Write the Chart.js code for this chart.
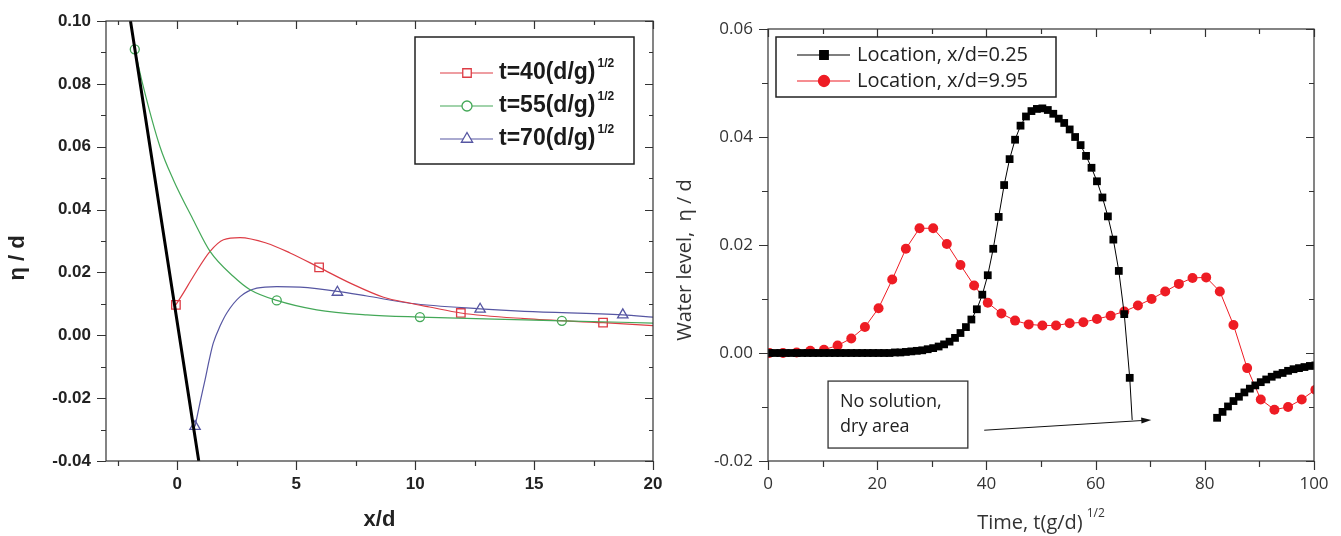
<!DOCTYPE html>
<html lang="en">
<head>
  <meta charset="UTF-8">
  <title>Free-surface profiles and water level time series</title>
  <style>
    html, body { margin: 0; padding: 0; background: #fff; }
    .charts { position: relative; width: 1341px; height: 536px; }
    .chart-box { position: absolute; top: 0; height: 536px; }
    .profile-box { left: 0; width: 670px; }
    .series-box { left: 670px; width: 671px; }
  </style>
</head>
<body>
  <div class="charts">
    <div class="chart-box profile-box"><canvas id="profile-chart"></canvas></div>
    <div class="chart-box series-box"><canvas id="series-chart"></canvas></div>
  </div>

  <script src="https://cdn.jsdelivr.net/npm/chart.js@4.4.1/dist/chart.umd.min.js"></script>
  <script>
    // ---- left panel: profiles eta/d against x/d ----
    const PROFILE_X_RANGE = [-3, 20];
    const PROFILE_Y_RANGE = [-0.04, 0.10];

    const SHORE_X = [-1.97, 0.90];
    const SHORE_Y = [0.10, -0.04];

    const T40_X = [-0.06, 0.25, 0.67, 1.375, 1.94, 2.64, 3.76, 4.74, 5.96, 7.27, 8.67, 9.79, 10.6, 11.92, 14.6, 17.9, 20];
    const T40_Y = [0.0097, 0.0134, 0.0187, 0.0267, 0.0304, 0.0311, 0.0293, 0.0262, 0.0216, 0.0166, 0.0121, 0.0102, 0.0090, 0.0071, 0.0053, 0.0040, 0.0031];
    const T40_MARK_X = [-0.06, 5.96, 11.92, 17.9];
    const T40_MARK_Y = [0.0097, 0.0216, 0.0071, 0.0040];

    const T55_X = [-1.79, -1.46, -0.73, -0.17, 0.67, 1.375, 2.36, 3.06, 4.18, 5.86, 7.97, 10.2, 14.6, 16.17, 20];
    const T55_Y = [0.091, 0.080, 0.060, 0.0495, 0.0367, 0.0267, 0.0187, 0.0145, 0.0111, 0.0081, 0.0065, 0.0058, 0.0049, 0.0046, 0.0039];
    const T55_MARK_X = [-1.79, 4.18, 10.2, 16.17];
    const T55_MARK_Y = [0.091, 0.0111, 0.0058, 0.0046];

    const T70_X = [0.744, 0.95, 1.165, 1.35, 1.51, 1.8, 2.08, 2.64, 3.34, 4.18, 5.16, 6.73, 7.97, 9.79, 12.73, 14.6, 18.73, 20];
    const T70_Y = [-0.029, -0.0215, -0.0142, -0.0075, -0.0025, 0.0030, 0.0071, 0.0123, 0.0150, 0.0155, 0.0153, 0.0140, 0.0125, 0.0102, 0.0084, 0.0076, 0.0065, 0.0058];
    const T70_MARK_X = [0.744, 6.73, 12.73, 18.73];
    const T70_MARK_Y = [-0.029, 0.0137, 0.0083, 0.0065];

    const PROFILE_LABELS = ['t=40(d/g)', 't=55(d/g)', 't=70(d/g)'];

    // ---- right panel: water level at two gauges against time ----
    const SERIES_X_RANGE = [0, 100];
    const SERIES_Y_RANGE = [-0.02, 0.06];

    const GAUGE_A_X = [0.25, 1.25, 2.25, 3.25, 4.25, 5.25, 6.25, 7.25, 8.25, 9.25, 10.25, 11.25, 12.25, 13.25, 14.25, 15.25, 16.25, 17.25, 18.25, 19.25,
      20.25, 21.25, 22.25, 23.25, 24.25, 25.25, 26.25, 27.25, 28.25, 29.25, 30.25, 31.25, 32.25, 33.25, 34.25, 35.25, 36.25, 37.25, 38.25, 39.25,
      40.25, 41.25, 42.25, 43.25, 44.25, 45.25, 46.25, 47.25, 48.25, 49.25, 50.25, 51.25, 52.25, 53.25, 54.25, 55.25, 56.25, 57.25, 58.25, 59.25,
      60.25, 61.25, 62.25, 63.25, 64.25, 65.25, 66.25, 74,
      82.25, 83.25, 84.25, 85.25, 86.25, 87.25, 88.25, 89.25, 90.25, 91.25, 92.25, 93.25, 94.25, 95.25, 96.25, 97.25, 98.25, 99.25, 100.25];
    const GAUGE_A_Y = [0, 0, 0, 0, 0, 0, 0, 0, 0, 0, 0, 0, 0, 0, 0, 0, 0, 0, 0, 0,
      0, 0, 0, 0.0001, 0.0001, 0.0002, 0.0003, 0.0004, 0.0005, 0.0007, 0.0009, 0.0012, 0.0016, 0.0021, 0.0028, 0.0037, 0.0048, 0.0062, 0.0081, 0.0108,
      0.0144, 0.0193, 0.0252, 0.0311, 0.0359, 0.0395, 0.0421, 0.0438, 0.0448, 0.0452, 0.0453, 0.0450, 0.0443, 0.0434, 0.0426, 0.0414, 0.0400, 0.0385, 0.0365, 0.0343,
      0.0318, 0.0288, 0.0253, 0.0210, 0.0152, 0.0072, -0.0046, null,
      -0.0120, -0.0109, -0.0099, -0.0089, -0.0081, -0.0073, -0.0066, -0.0060, -0.0054, -0.0049, -0.0044, -0.0040, -0.0037, -0.0033, -0.0030, -0.0028, -0.0026, -0.0024, -0.0023];
    // line runs on below the last marker into the dry area
    const GAUGE_A_TAIL_X = [66.25, 66.7];
    const GAUGE_A_TAIL_Y = [-0.0046, -0.0124];

    const GAUGE_B_X = [0.25, 2.75, 5.25, 7.75, 10.25, 12.75, 15.25, 17.75, 20.25, 22.75, 25.25, 27.75, 30.25, 32.75, 35.25, 37.75, 40.25, 42.75, 45.25, 47.75,
      50.25, 52.75, 55.25, 57.75, 60.25, 62.75, 65.25, 67.75, 70.25, 72.75, 75.25, 77.75, 80.25, 82.75, 85.25, 87.75, 90.25, 92.75, 95.25, 97.75, 100.25];
    const GAUGE_B_Y = [0, 0, 0.0001, 0.0004, 0.0006, 0.0014, 0.0027, 0.0048, 0.0083, 0.0136, 0.0193, 0.0231, 0.0231, 0.0202, 0.0163, 0.0125, 0.0093, 0.0073, 0.0060, 0.0053,
      0.0051, 0.0051, 0.0055, 0.0057, 0.0063, 0.0069, 0.0077, 0.0088, 0.0100, 0.0114, 0.0128, 0.0139, 0.0140, 0.0114, 0.0052, -0.0028, -0.0086, -0.0105, -0.0100, -0.0086, -0.0068];

    const SERIES_LABELS = ['Location, x/d=0.25', 'Location, x/d=9.95'];
    const NOTE_LINES = ['No solution,', 'dry area'];

    const RED = '#dd3c45';
    const GREEN = '#44a858';
    const BLUE = '#5656a2';
    const BRIGHT_RED = '#ee1c24';
    const ARIAL = "'Liberation Sans', Arial, sans-serif";
    const SANS = "'Open Sans', 'Noto Sans', sans-serif";

    function toPoints(xs, ys) {
      return xs.map((x, i) => ({ x, y: ys[i] }));
    }

    // text with an optional superscript, anchored left or centred
    function drawRich(ctx, text, sup, x, y, o) {
      ctx.textBaseline = 'middle';
      ctx.textAlign = 'left';
      ctx.font = o.font;
      const w = ctx.measureText(text).width;
      let sw = 0;
      if (sup) {
        ctx.font = o.supFont;
        sw = o.gap + ctx.measureText(sup).width;
      }
      const x0 = o.center ? x - (w + sw) / 2 : x;
      ctx.font = o.font;
      ctx.fillText(text, x0, y);
      if (sup) {
        ctx.font = o.supFont;
        ctx.fillText(sup, x0 + w + o.gap, y - o.rise);
      }
    }

    function drawMarker(ctx, style, radius, fill, stroke, x, y) {
      ctx.fillStyle = fill;
      ctx.strokeStyle = stroke;
      ctx.lineWidth = 1.3;
      Chart.helpers.drawPoint(ctx, { pointStyle: style, radius, rotation: 0, borderWidth: 1.3 }, x, y);
    }

    // box frame, outward ticks on bottom/left, inward on top/right, with minors
    const frameTicks = {
      id: 'frameTicks',
      afterDatasetsDraw(chart, args, o) {
        const { ctx, chartArea: a, scales: { x, y } } = chart;
        const isMajor = (v, m) => Math.abs(v / m - Math.round(v / m)) < 1e-6;
        ctx.save();
        ctx.strokeStyle = o.color;
        ctx.lineWidth = o.width;
        ctx.strokeRect(a.left, a.top, a.right - a.left, a.bottom - a.top);
        ctx.beginPath();
        for (let n = Math.ceil(x.min / o.xMinor - 1e-9); n <= Math.floor(x.max / o.xMinor + 1e-9); n++) {
          const v = n * o.xMinor;
          const p = Math.round(x.getPixelForValue(v)) + 0.5;
          const major = isMajor(v, o.xMajor);
          ctx.moveTo(p, a.bottom);
          ctx.lineTo(p, a.bottom + (major ? o.outMajor : o.outMinor));
          ctx.moveTo(p, a.top);
          ctx.lineTo(p, a.top + (major ? o.inMajor : o.inMinor));
        }
        for (let n = Math.ceil(y.min / o.yMinor - 1e-9); n <= Math.floor(y.max / o.yMinor + 1e-9); n++) {
          const v = n * o.yMinor;
          const p = Math.round(y.getPixelForValue(v)) + 0.5;
          const major = isMajor(v, o.yMajor);
          ctx.moveTo(a.left, p);
          ctx.lineTo(a.left - (major ? o.outMajor : o.outMinor), p);
          ctx.moveTo(a.right, p);
          ctx.lineTo(a.right - (major ? o.inMajor : o.inMinor), p);
        }
        ctx.stroke();
        ctx.restore();
      }
    };

    const axisTitles = {
      id: 'axisTitles',
      afterDraw(chart, args, o) {
        const { ctx, chartArea: a } = chart;
        ctx.save();
        ctx.fillStyle = o.color;
        drawRich(ctx, o.xText, o.xSup, (a.left + a.right) / 2, o.xY,
          { font: o.font, supFont: o.supFont, gap: o.gap, rise: o.rise, center: true });
        ctx.translate(o.yX, (a.top + a.bottom) / 2 + o.yShift);
        ctx.rotate(-Math.PI / 2);
        ctx.font = o.font;
        ctx.textAlign = 'center';
        ctx.textBaseline = 'middle';
        ctx.fillText(o.yText, 0, 0);
        ctx.restore();
      }
    };

    const boxLegend = {
      id: 'boxLegend',
      afterDraw(chart, args, o) {
        const { ctx, chartArea: a } = chart;
        const left = o.fromRight ? a.right - o.dx - o.w : a.left + o.dx;
        const top = a.top + o.dy;
        ctx.save();
        ctx.strokeStyle = '#222';
        ctx.lineWidth = 1.5;
        ctx.strokeRect(left, top, o.w, o.h);
        o.items.forEach((it, i) => {
          const cy = top + o.firstRow + i * o.rowGap;
          ctx.strokeStyle = it.color;
          ctx.lineWidth = 1.2;
          ctx.beginPath();
          ctx.moveTo(left + o.lineFrom, cy);
          ctx.lineTo(left + o.lineTo, cy);
          ctx.stroke();
          drawMarker(ctx, it.style, it.radius, it.fill, it.color, left + o.markAt, cy);
          ctx.fillStyle = o.textColor;
          drawRich(ctx, it.text, it.sup, left + o.textAt, cy,
            { font: o.font, supFont: o.supFont, gap: o.gap, rise: o.rise, center: false });
        });
        ctx.restore();
      }
    };

    const dryNote = {
      id: 'dryNote',
      afterDraw(chart, args, o) {
        if (!o.box) return;
        const { ctx, scales: { x, y } } = chart;
        const l = x.getPixelForValue(o.box[0]);
        const t = y.getPixelForValue(o.box[1]);
        const r = x.getPixelForValue(o.box[2]);
        const b = y.getPixelForValue(o.box[3]);
        ctx.save();
        ctx.strokeStyle = '#333';
        ctx.lineWidth = 1.3;
        ctx.strokeRect(l, t, r - l, b - t);
        ctx.fillStyle = '#222';
        ctx.font = o.font;
        ctx.textAlign = 'left';
        ctx.textBaseline = 'middle';
        o.lines.forEach((s, i) => ctx.fillText(s, l + 12, t + 21 + i * 25));
        const x1 = x.getPixelForValue(o.arrow[0]);
        const y1 = y.getPixelForValue(o.arrow[1]);
        const x2 = x.getPixelForValue(o.arrow[2]);
        const y2 = y.getPixelForValue(o.arrow[3]);
        const ang = Math.atan2(y2 - y1, x2 - x1);
        ctx.strokeStyle = '#111';
        ctx.lineWidth = 1;
        ctx.beginPath();
        ctx.moveTo(x1, y1);
        ctx.lineTo(x2 - 6 * Math.cos(ang), y2 - 6 * Math.sin(ang));
        ctx.stroke();
        ctx.fillStyle = '#111';
        ctx.beginPath();
        ctx.moveTo(x2, y2);
        ctx.lineTo(x2 - 10 * Math.cos(ang) + 3 * Math.sin(ang), y2 - 10 * Math.sin(ang) - 3 * Math.cos(ang));
        ctx.lineTo(x2 - 10 * Math.cos(ang) - 3 * Math.sin(ang), y2 - 10 * Math.sin(ang) + 3 * Math.cos(ang));
        ctx.closePath();
        ctx.fill();
        ctx.restore();
      }
    };

    function curve(xs, ys, color, width) {
      return {
        data: toPoints(xs, ys),
        showLine: true,
        borderColor: color,
        borderWidth: width,
        pointRadius: 0,
        cubicInterpolationMode: 'monotone'
      };
    }

    function marks(xs, ys, color, style, radius) {
      return {
        data: toPoints(xs, ys),
        showLine: false,
        pointStyle: style,
        pointRadius: radius,
        pointBackgroundColor: '#fff',
        pointBorderColor: color,
        pointBorderWidth: 1.3
      };
    }

    // tick marks are drawn by frameTicks; the library's (invisible) tick
    // length only keeps the labels off the axis
    function axis(range, step, fontObj, color, gap, fit, fixed) {
      return {
        type: 'linear',
        min: range[0],
        max: range[1],
        afterFit: fit,
        grid: { display: true, drawOnChartArea: false, drawTicks: true, tickLength: gap, tickColor: 'rgba(0,0,0,0)' },
        border: { display: false },
        ticks: {
          stepSize: step,
          includeBounds: false,
          padding: 0,
          color,
          font: fontObj,
          callback: v => (fixed ? v.toFixed(2) : String(v))
        }
      };
    }

    const profileChart = new Chart(document.getElementById('profile-chart'), {
      type: 'scatter',
      data: {
        datasets: [
          curve(SHORE_X, SHORE_Y, '#000', 3),
          curve(T55_X, T55_Y, GREEN, 1.2),
          curve(T40_X, T40_Y, RED, 1.2),
          curve(T70_X, T70_Y, BLUE, 1.2),
          marks(T40_MARK_X, T40_MARK_Y, RED, 'rect', 6),
          marks(T55_MARK_X, T55_MARK_Y, GREEN, 'circle', 4.5),
          marks(T70_MARK_X, T70_MARK_Y, BLUE, 'triangle', 6)
        ]
      },
      plugins: [frameTicks, axisTitles, boxLegend],
      options: {
        responsive: true,
        maintainAspectRatio: false,
        animation: false,
        events: [],
        layout: { padding: { left: 0, right: 17, top: 21, bottom: 0 } },
        plugins: {
          legend: { display: false },
          tooltip: { enabled: false },
          frameTicks: { color: '#333', width: 1.2, xMinor: 2.5, xMajor: 5, yMinor: 0.01, yMajor: 0.02,
            outMajor: 9, outMinor: 5, inMajor: 8, inMinor: 4 },
          axisTitles: { color: '#222', font: `bold 22px ${ARIAL}`, supFont: `bold 12px ${ARIAL}`, gap: 2, rise: 9,
            xText: 'x/d', xSup: '', xY: 520, yText: 'η / d', yX: 18, yShift: 17 },
          boxLegend: {
            fromRight: true, dx: 19, dy: 16, w: 219, h: 127, firstRow: 36, rowGap: 33,
            lineFrom: 25, lineTo: 78, markAt: 52, textAt: 84,
            font: `bold 23px ${ARIAL}`, supFont: `bold 12px ${ARIAL}`, gap: 2, rise: 9, textColor: '#1a1a1a',
            items: [
              { text: PROFILE_LABELS[0], sup: '1/2', color: RED, style: 'rect', radius: 6, fill: '#fff' },
              { text: PROFILE_LABELS[1], sup: '1/2', color: GREEN, style: 'circle', radius: 5, fill: '#fff' },
              { text: PROFILE_LABELS[2], sup: '1/2', color: BLUE, style: 'triangle', radius: 6.5, fill: '#fff' }
            ]
          }
        },
        scales: {
          x: axis(PROFILE_X_RANGE, 5, { family: ARIAL, weight: 'bold', size: 17 }, '#222', 13, s => { s.height = 75; }, false),
          y: axis(PROFILE_Y_RANGE, 0.02, { family: ARIAL, weight: 'bold', size: 17 }, '#222', 15, s => { s.width = 106; }, true)
        }
      }
    });

    const seriesChart = new Chart(document.getElementById('series-chart'), {
      type: 'scatter',
      data: {
        datasets: [
          {
            data: toPoints(GAUGE_A_X, GAUGE_A_Y),
            showLine: true,
            spanGaps: false,
            borderColor: '#000',
            borderWidth: 1,
            pointStyle: 'rect',
            pointRadius: 5.5,
            pointBackgroundColor: '#000',
            pointBorderColor: '#000',
            pointBorderWidth: 0
          },
          {
            data: toPoints(GAUGE_A_TAIL_X, GAUGE_A_TAIL_Y),
            showLine: true,
            borderColor: '#000',
            borderWidth: 1,
            pointRadius: 0
          },
          {
            data: toPoints(GAUGE_B_X, GAUGE_B_Y),
            showLine: true,
            borderColor: BRIGHT_RED,
            borderWidth: 1,
            pointStyle: 'circle',
            pointRadius: 5,
            pointBackgroundColor: BRIGHT_RED,
            pointBorderColor: BRIGHT_RED,
            pointBorderWidth: 0
          }
        ]
      },
      plugins: [frameTicks, axisTitles, boxLegend, dryNote],
      options: {
        responsive: true,
        maintainAspectRatio: false,
        animation: false,
        events: [],
        layout: { padding: { left: 0, right: 27, top: 29, bottom: 0 } },
        plugins: {
          legend: { display: false },
          tooltip: { enabled: false },
          frameTicks: { color: '#333', width: 1.2, xMinor: 10, xMajor: 20, yMinor: 0.01, yMajor: 0.02,
            outMajor: 9, outMinor: 6, inMajor: 8, inMinor: 5 },
          axisTitles: { color: '#333', font: `20px ${SANS}`, supFont: `12px ${SANS}`, gap: 4, rise: 9,
            xText: 'Time, t(g/d)', xSup: '1/2', xY: 523, yText: 'Water level,  η / d', yX: 15, yShift: 15 },
          boxLegend: {
            fromRight: false, dx: 8, dy: 8, w: 280, h: 60, firstRow: 18, rowGap: 26,
            lineFrom: 21, lineTo: 74, markAt: 48, textAt: 81,
            font: `20px ${SANS}`, supFont: `12px ${SANS}`, gap: 2, rise: 9, textColor: '#222',
            items: [
              { text: SERIES_LABELS[0], sup: '', color: '#000', style: 'rect', radius: 6, fill: '#000' },
              { text: SERIES_LABELS[1], sup: '', color: BRIGHT_RED, style: 'circle', radius: 5.5, fill: BRIGHT_RED }
            ]
          },
          dryNote: {
            box: [11.0, -0.0052, 36.6, -0.0176],
            arrow: [39.6, -0.0143, 70.2, -0.0124],
            lines: NOTE_LINES,
            font: `18px ${SANS}`
          }
        },
        scales: {
          x: axis(SERIES_X_RANGE, 20, { family: SANS, size: 17 }, '#333', 13, s => { s.height = 75; }, false),
          y: axis(SERIES_Y_RANGE, 0.02, { family: SANS, size: 17 }, '#333', 15, s => { s.width = 98; }, true)
        }
      }
    });
  </script>
</body>
</html>
